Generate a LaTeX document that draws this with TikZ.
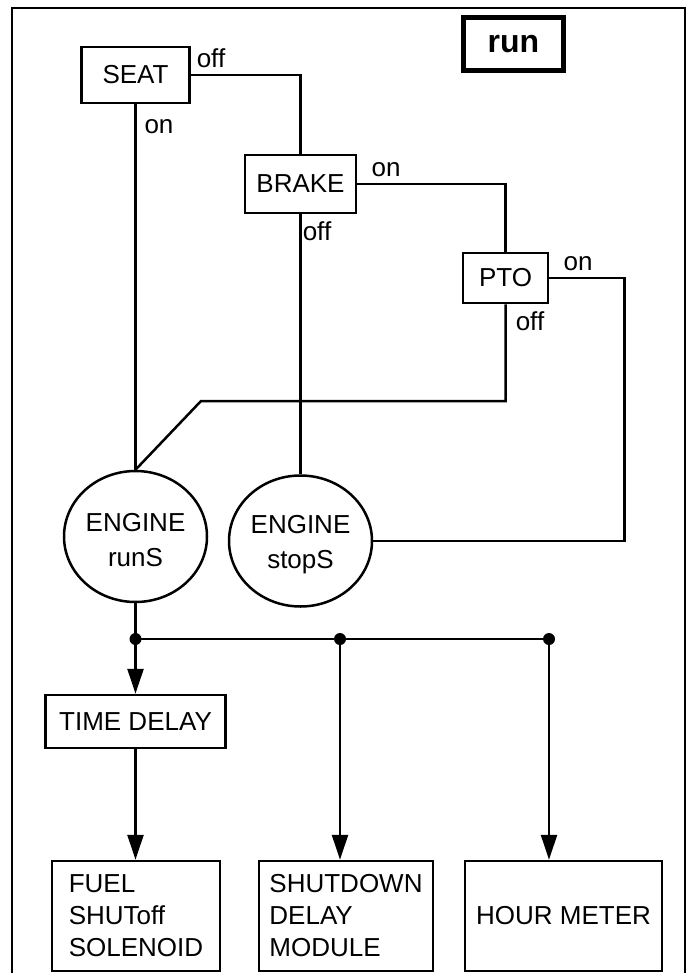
\documentclass[tikz,border=0pt]{standalone}
\usepackage{fontspec}
\setmainfont{Liberation Sans}
\usetikzlibrary{arrows.meta, positioning, shapes.geometric}

\begin{document}
\begin{tikzpicture}[
    x=1pt, y=-1pt,
    every node/.style={align=center, font=\fontsize{26}{32}\selectfont},
    wire/.style={line width=2.5pt},
    feed/.style={wire, -{Triangle[length=25pt, width=16pt]}},
    switchbox/.style={draw, line width=2.5pt, inner sep=0pt},
    state/.style={draw, ellipse, line width=2.5pt, minimum width=143pt, minimum height=131pt, inner sep=0pt},
    unit/.style={draw, line width=2.5pt, minimum height=110pt, inner sep=0pt},
    tag/.style={inner sep=0pt}
]
    \useasboundingbox (0,0) rectangle (691,973);
    \draw[line width=1.5pt] (12,990) -- (12,8) -- (685,8) -- (685,990);

    % Nodes
    \node[draw, line width=5pt, minimum width=100pt, minimum height=53pt, inner sep=0pt,
          font=\bfseries\fontsize{32}{36}\selectfont] (mode) at (513.5,44) {run};
    \node[switchbox, minimum width=108pt, minimum height=56pt] (seat) at (135.5,75) {SEAT};
    \node[switchbox, minimum width=111pt, minimum height=58pt] (brake) at (300.5,184) {BRAKE};
    \node[switchbox, minimum width=85pt, minimum height=50pt] (pto) at (505.5,278) {PTO};

    \node[state] (runS) at (135.5,536.5) {\rule{0pt}{26pt}ENGINE\\[3pt]runS};
    \node[state] (stopS) at (300.5,541) {\rule{0pt}{26pt}ENGINE\\[3pt]stopS};

    \node[switchbox, minimum width=180pt, minimum height=53pt] (delay) at (135.5,721.5) {TIME DELAY};
    \node[unit, minimum width=168pt, align=left] (fuel) at (136,916) {FUEL\\SHUToff\\SOLENOID};
    \node[unit, minimum width=174pt, align=left] (shutdown) at (346,916) {SHUTDOWN\\DELAY\\MODULE};
    \node[unit, minimum width=197pt] (hours) at (563.5,916) {HOUR METER};

    % Switch labels
    \node[tag] (seatOff) at (211,58) {off};
    \node[tag] (seatOn) at (159,127) {on};
    \node[tag] (brakeOn) at (386,170) {on};
    \node[tag] (brakeOff) at (317,231) {off};
    \node[tag] (ptoOn) at (578,264) {on};
    \node[tag] (ptoOff) at (530,321) {off};

    \coordinate (kink) at (201,401);
    \coordinate (j1) at (135.5,639);
    \coordinate (j2) at (340,639);
    \coordinate (j3) at (549,639);

    % Wires
    \draw[wire] (seat.east) -| (brake.north);
    \draw[wire] (seat.south) -- (runS.north);
    \draw[wire] (brake.east) -| (pto.north);
    \draw[wire] (brake.south) -- (stopS.north);
    \draw[wire] (pto.east) -- ++(75,0) |- (stopS.east);
    \draw[wire] (pto.south) |- (kink) -- (runS.north);
    \draw[wire] (runS.south) -- (j1) -- (j3);
    \foreach \j in {j1,j2,j3}
        \fill (\j) circle (6pt);

    % Arrows
    \draw[feed] (j1) -- (delay.north);
    \draw[feed] (delay.south) -- (delay.south |- fuel.north);
    \draw[feed] (j2) -- (j2 |- shutdown.north);
    \draw[feed] (j3) -- (j3 |- hours.north);

\end{tikzpicture}
\end{document}
